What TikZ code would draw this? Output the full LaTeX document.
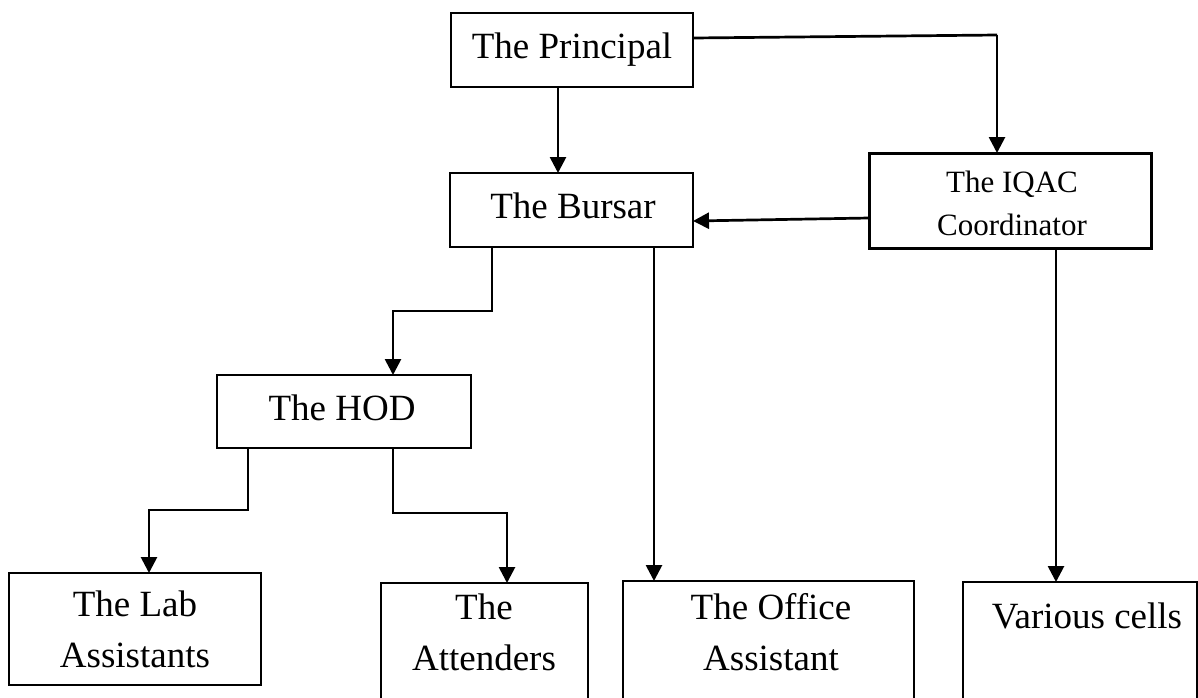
\documentclass[tikz,border=0pt]{standalone}
\usepackage{fontspec}
\setmainfont{Liberation Serif}
\usetikzlibrary{arrows.meta}
\begin{document}
\begin{tikzpicture}[x=0.5pt,y=-0.5pt,
  box/.style={draw, line width=0.6pt, inner sep=0pt, outer sep=0pt},
  thickbox/.style={draw, line width=1.5pt, inner sep=0pt, outer sep=0pt},
  conn/.style={line width=1.35pt},
  arr/.style={conn, -{Triangle[length=8pt,width=8pt]}},
  txt/.style={font=\fontsize{18.5}{25.5}\selectfont, anchor=base, inner sep=0pt, align=center},
  stxt/.style={font=\fontsize{15.5}{21.5}\selectfont, anchor=base, inner sep=0pt, align=center}]
\useasboundingbox (0,0) rectangle (1198,697);
\begin{scope}
\clip (0,0) rectangle (1198,697);
% boxes
\node[box, minimum width=121pt, minimum height=37pt] (Principal) at (572,50) {};
\node[box, minimum width=121.5pt, minimum height=37pt] (Bursar) at (571.5,210) {};
\node[thickbox, minimum width=141pt, minimum height=47.5pt] (IQAC) at (1010,200.5) {};
\node[box, minimum width=127pt, minimum height=36.5pt] (HOD) at (344,411.5) {};
\node[box, minimum width=126pt, minimum height=56pt] (Lab) at (135,629) {};
\node[box, minimum width=103.5pt, minimum height=63.5pt] (Attenders) at (484.5,646.5) {};
\node[box, minimum width=145.5pt, minimum height=64.5pt] (Office) at (768.5,645.5) {};
\node[box, minimum width=117pt, minimum height=64pt] (Various) at (1080,646) {};
% texts (base anchor = baseline of the last line)
\node[txt] (tPrincipal) at (572,58) {The Principal};
\node[txt] (tBursar) at (573,218) {The Bursar};
\node[stxt] (tIQAC) at (1012,235) {The IQAC\\Coordinator};
\node[txt] (tHOD) at (342,420) {The HOD};
\node[txt] (tLab) at (135,667) {The Lab\\Assistants};
\node[txt] (tAttenders) at (484,670) {The\\Attenders};
\node[txt] (tOffice) at (771,670) {The Office\\Assistant};
\node[txt] (tVarious) at (1087,628) {Various cells};
% helper coordinates
\coordinate (pk) at (997,35);
\coordinate (xPB) at (558,0);
\coordinate (xBH) at (492,0);
\coordinate (hb) at (393,311);
\coordinate (xBO) at (654,0);
\coordinate (xIV) at (1056,0);
\coordinate (hl1) at (248,0);
\coordinate (hl2) at (149,510);
\coordinate (ha1) at (393,0);
\coordinate (ha2) at (507,513);
% connectors
\draw[conn] ([yshift=6pt]Principal.east) -- (pk);
\draw[arr] (pk) -- (pk |- IQAC.north);
\draw[arr] (Principal.south -| xPB) -- (Bursar.north -| xPB);
\draw[arr] ([yshift=-8.75pt]IQAC.west) -- ([yshift=-5.5pt]Bursar.east);
\draw[arr] (Bursar.south -| xBH) |- (hb) -- (HOD.north -| hb);
\draw[arr] (Bursar.south -| xBO) -- (Office.north -| xBO);
\draw[arr] (IQAC.south -| xIV) -- (Various.north -| xIV);
\draw[arr] (HOD.south -| hl1) |- (hl2) -- (Lab.north -| hl2);
\draw[arr] (HOD.south -| ha1) |- (ha2) -- (Attenders.north -| ha2);
\end{scope}
\end{tikzpicture}
\end{document}
